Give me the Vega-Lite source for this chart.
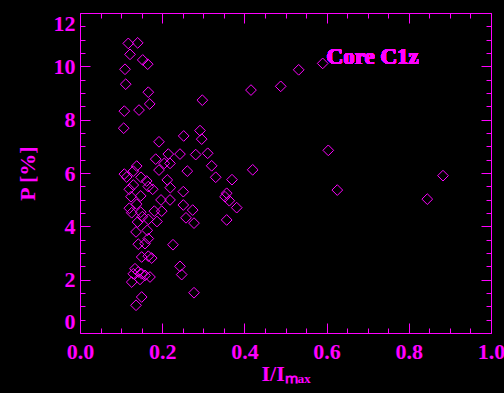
{
  "$schema": "https://vega.github.io/schema/vega-lite/v6.json",
  "width": 411,
  "height": 320,
  "autosize": "none",
  "padding": {"left": 80, "top": 13, "right": 13, "bottom": 60},
  "background": "black",
  "config": {
    "view": {"stroke": null},
    "axis": {
      "grid": false,
      "domainColor": "#ff00ff",
      "tickColor": "#ff00ff",
      "labelColor": "#ff00ff",
      "titleColor": "#ff00ff",
      "labelFont": "Liberation Serif",
      "titleFont": "Liberation Serif",
      "labelFontWeight": "bold",
      "titleFontWeight": "bold",
      "labelFontSize": 22,
      "titleFontSize": 22,
      "domainWidth": 1,
      "tickWidth": 1
    }
  },
  "data": {
    "values": [
      {"x": 0.1175, "y": 10.86}, {"x": 0.1404, "y": 10.88}, {"x": 0.1217, "y": 10.45}, {"x": 0.1526, "y": 10.24},
      {"x": 0.1647, "y": 10.08}, {"x": 0.1095, "y": 9.89}, {"x": 0.1112, "y": 9.33}, {"x": 0.1662, "y": 9.03},
      {"x": 0.1696, "y": 8.59}, {"x": 0.1078, "y": 8.32}, {"x": 0.1436, "y": 8.36}, {"x": 0.1063, "y": 7.68},
      {"x": 0.2976, "y": 8.73}, {"x": 0.1922, "y": 7.17}, {"x": 0.2523, "y": 7.39}, {"x": 0.292, "y": 7.59},
      {"x": 0.2961, "y": 7.27}, {"x": 0.416, "y": 9.11}, {"x": 0.4883, "y": 9.25}, {"x": 0.5321, "y": 9.87},
      {"x": 0.5905, "y": 10.11}, {"x": 0.6041, "y": 6.85}, {"x": 0.4202, "y": 6.12}, {"x": 0.3698, "y": 5.75},
      {"x": 0.626, "y": 5.36}, {"x": 0.845, "y": 5.02}, {"x": 0.8832, "y": 5.9}, {"x": 0.3569, "y": 5.24},
      {"x": 0.3528, "y": 5.11}, {"x": 0.3633, "y": 4.96}, {"x": 0.3813, "y": 4.7}, {"x": 0.3569, "y": 4.24},
      {"x": 0.3302, "y": 5.84}, {"x": 0.3204, "y": 6.27}, {"x": 0.1842, "y": 6.52}, {"x": 0.2148, "y": 6.71},
      {"x": 0.2433, "y": 6.71}, {"x": 0.2815, "y": 6.69}, {"x": 0.3107, "y": 6.74}, {"x": 0.219, "y": 6.36},
      {"x": 0.2051, "y": 6.36}, {"x": 0.1922, "y": 6.11}, {"x": 0.2611, "y": 6.07}, {"x": 0.138, "y": 6.26},
      {"x": 0.1297, "y": 6.07}, {"x": 0.1078, "y": 5.96}, {"x": 0.1136, "y": 5.85}, {"x": 0.1484, "y": 5.84},
      {"x": 0.1623, "y": 5.7}, {"x": 0.2124, "y": 5.74}, {"x": 0.1297, "y": 5.55}, {"x": 0.12, "y": 5.39},
      {"x": 0.1662, "y": 5.49}, {"x": 0.1769, "y": 5.39}, {"x": 0.2197, "y": 5.45}, {"x": 0.1241, "y": 5.11},
      {"x": 0.1477, "y": 5.14}, {"x": 0.1971, "y": 4.99}, {"x": 0.219, "y": 4.99}, {"x": 0.2513, "y": 5.3},
      {"x": 0.138, "y": 4.83}, {"x": 0.12, "y": 4.68}, {"x": 0.1258, "y": 4.51}, {"x": 0.1477, "y": 4.53},
      {"x": 0.1516, "y": 4.36}, {"x": 0.1808, "y": 4.57}, {"x": 0.1988, "y": 4.57}, {"x": 0.2513, "y": 4.8},
      {"x": 0.2742, "y": 4.61}, {"x": 0.2579, "y": 4.32}, {"x": 0.2774, "y": 4.12}, {"x": 0.1662, "y": 4.26},
      {"x": 0.1873, "y": 4.18}, {"x": 0.14, "y": 4.16}, {"x": 0.1363, "y": 3.79}, {"x": 0.1637, "y": 3.85},
      {"x": 0.1662, "y": 3.54}, {"x": 0.1582, "y": 3.35}, {"x": 0.1418, "y": 3.33}, {"x": 0.2263, "y": 3.31},
      {"x": 0.1501, "y": 2.85}, {"x": 0.1662, "y": 2.88}, {"x": 0.1745, "y": 2.81}, {"x": 0.1338, "y": 2.41},
      {"x": 0.1418, "y": 2.29}, {"x": 0.1501, "y": 2.22}, {"x": 0.1297, "y": 2.22}, {"x": 0.1582, "y": 2.16},
      {"x": 0.1703, "y": 2.1}, {"x": 0.146, "y": 2.01}, {"x": 0.1258, "y": 1.91}, {"x": 0.1501, "y": 1.35},
      {"x": 0.1363, "y": 1.04}, {"x": 0.2433, "y": 2.5}, {"x": 0.2474, "y": 2.19}, {"x": 0.2774, "y": 1.51}
    ]
  },
  "layer": [
    {
      "mark": {"type": "point", "shape": "diamond", "filled": false, "size": 115, "strokeWidth": 1, "color": "#ff00ff", "opacity": 1},
      "encoding": {
        "x": {
          "field": "x", "type": "quantitative",
          "scale": {"domain": [0, 1], "nice": false, "zero": false},
          "axis": {
            "orient": "bottom",
            "values": [0, 0.2, 0.4, 0.6, 0.8, 1.0],
            "format": ".1f",
            "tickSize": -10,
            "labelPadding": 18,
            "labelFlush": false,
            "labelOverlap": false,
            "title": "I/Iₘₐₓ",
            "titlePadding": 1
          }
        },
        "y": {
          "field": "y", "type": "quantitative",
          "scale": {"domain": [0, 12], "nice": false, "zero": false},
          "axis": {
            "orient": "left",
            "values": [0, 2, 4, 6, 8, 10, 12],
            "format": "d",
            "tickSize": -10,
            "labelPadding": 15,
            "labelFlush": true,
            "labelOverlap": false,
            "title": "P [%]",
            "titlePadding": 14
          }
        }
      }
    },
    {
      "mark": {"type": "point", "opacity": 0},
      "encoding": {
        "x": {
          "field": "x", "type": "quantitative",
          "axis": {
            "orient": "bottom",
            "values": [0.05, 0.1, 0.15, 0.25, 0.3, 0.35, 0.45, 0.5, 0.55, 0.65, 0.7, 0.75, 0.85, 0.9, 0.95],
            "labels": false, "domain": false, "title": null, "tickSize": -5
          }
        },
        "y": {
          "field": "y", "type": "quantitative",
          "axis": {
            "orient": "left",
            "values": [0.5, 1, 1.5, 2.5, 3, 3.5, 4.5, 5, 5.5, 6.5, 7, 7.5, 8.5, 9, 9.5, 10.5, 11, 11.5],
            "labels": false, "domain": false, "title": null, "tickSize": -5
          }
        }
      }
    },
    {
      "mark": {"type": "point", "opacity": 0},
      "encoding": {
        "x": {
          "field": "x", "type": "quantitative",
          "axis": {
            "orient": "top",
            "values": [0, 0.2, 0.4, 0.6, 0.8, 1.0],
            "labels": false, "title": null, "tickSize": -10
          }
        },
        "y": {
          "field": "y", "type": "quantitative",
          "axis": {
            "orient": "right",
            "values": [0, 2, 4, 6, 8, 10, 12],
            "labels": false, "title": null, "tickSize": -10
          }
        }
      }
    },
    {
      "mark": {"type": "point", "opacity": 0},
      "encoding": {
        "x": {
          "field": "x", "type": "quantitative",
          "axis": {
            "orient": "top",
            "values": [0.05, 0.1, 0.15, 0.25, 0.3, 0.35, 0.45, 0.5, 0.55, 0.65, 0.7, 0.75, 0.85, 0.9, 0.95],
            "labels": false, "domain": false, "title": null, "tickSize": -5
          }
        },
        "y": {
          "field": "y", "type": "quantitative",
          "axis": {
            "orient": "right",
            "values": [0.5, 1, 1.5, 2.5, 3, 3.5, 4.5, 5, 5.5, 6.5, 7, 7.5, 8.5, 9, 9.5, 10.5, 11, 11.5],
            "labels": false, "domain": false, "title": null, "tickSize": -5
          }
        }
      }
    },
    {
      "mark": {"type": "text", "font": "Liberation Serif", "fontWeight": "bold", "fontSize": 23, "color": "#ff00ff", "align": "center", "baseline": "middle"},
      "encoding": {
        "x": {"datum": 0.712, "type": "quantitative", "axis": null},
        "y": {"datum": 10.35, "type": "quantitative", "axis": null},
        "text": {"value": "Core C1z"}
      }
    }
  ],
  "resolve": {"axis": {"x": "independent", "y": "independent"}}
}
